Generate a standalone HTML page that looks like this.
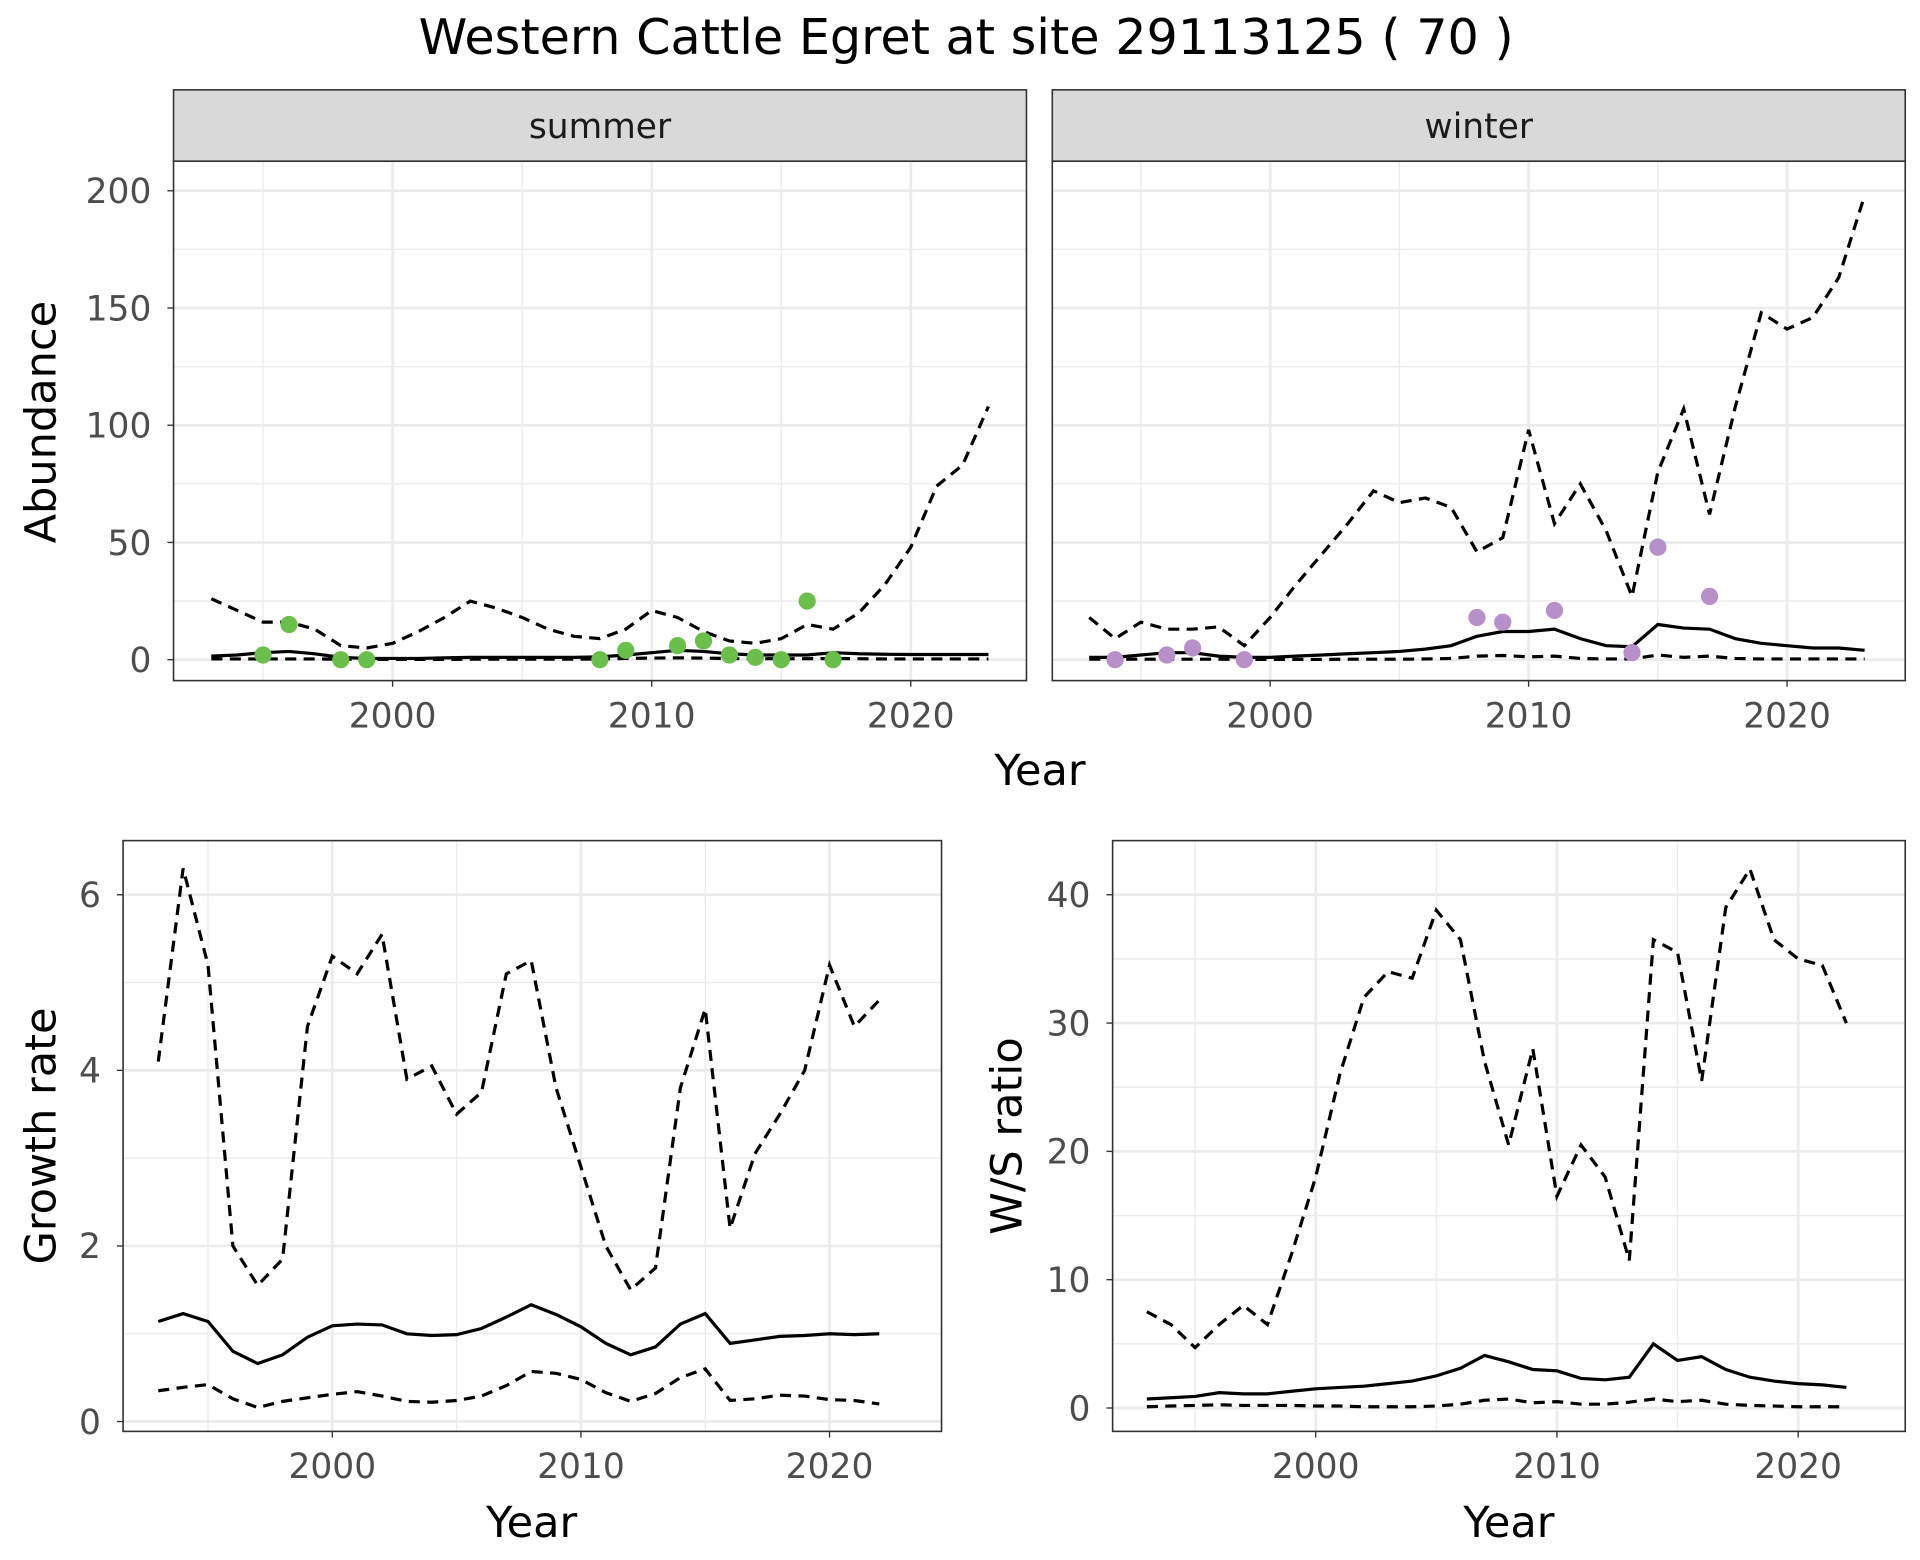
<!DOCTYPE html>
<html><head><meta charset="utf-8"><style>
html,body{margin:0;padding:0;background:#fff;}
svg{display:block;font-family:"DejaVu Sans","Liberation Sans",sans-serif;}
</style></head><body>
<svg id="chart" width="1920" height="1560" viewBox="0 0 1560 1267.5" xmlns="http://www.w3.org/2000/svg">
<text x="785" y="44" text-anchor="middle" font-size="40" fill="#000">Western Cattle Egret at site 29113125 ( 70 )</text>
<g id="root"></g>
</svg>
<script>
const years = [1993,1994,1995,1996,1997,1998,1999,2000,2001,2002,2003,2004,2005,2006,2007,2008,2009,2010,2011,2012,2013,2014,2015,2016,2017,2018,2019,2020,2021,2022,2023];
const summerMid = [1.5,2,3,3.5,2.5,1,0.5,0.5,0.5,0.8,1,1,1,1,1,1.2,2,3,4,3.5,2.5,2,2,2,3,2.5,2.3,2.2,2.2,2.2,2.2];
const summerUpper = [26,21,16,16,13,6,5,7,12,18,25,22,18,13,10,9,13,21,18,12,8,7,9,15,13,20,32,48,74,83,108];
const summerLower = [0.3,0.3,0.3,0.3,0.3,0.2,0.1,0.1,0.1,0.1,0.2,0.2,0.2,0.2,0.2,0.3,0.5,0.7,0.8,0.7,0.5,0.4,0.4,0.4,0.5,0.4,0.3,0.3,0.3,0.3,0.3];
const summerPtYears = [1995,1996,1998,1999,2008,2009,2011,2012,2013,2014,2015,2016,2017];
const summerPtVals = [2,15,0,0,0,4,6,8,2,1,0,25,0];
const winterMid = [1,1,2,3,3,1.5,1,1,1.5,2,2.5,3,3.5,4.5,6,10,12,12,13,9,6,5.5,15,13.5,13,9,7,6,5,5,4];
const winterUpper = [18,9,16,13,13,14,6,18,32,45,58,72,67,69,65,46,52,98,58,75,55,27,80,107,62,108,148,141,146,163,198];
const winterLower = [0.2,0.2,0.2,0.2,0.2,0.2,0.1,0.1,0.1,0.1,0.2,0.2,0.2,0.3,0.5,1.5,1.8,1.2,1.5,0.5,0.3,0.3,2,1,1.5,0.5,0.3,0.3,0.3,0.3,0.3];
const winterPtYears = [1994,1996,1997,1999,2008,2009,2011,2014,2015,2017];
const winterPtVals = [0,2,5,0,18,16,21,3,48,27];
const years2 = years.slice(0,30);
const growthUpper = [4.1,6.3,5.2,2.0,1.55,1.85,4.5,5.3,5.1,5.55,3.9,4.05,3.5,3.75,5.1,5.25,3.8,2.9,2.0,1.5,1.75,3.8,4.7,2.2,3.05,3.5,4.0,5.2,4.5,4.8];
const growthMid = [1.14,1.23,1.14,0.8,0.66,0.76,0.96,1.09,1.11,1.1,1.0,0.98,0.99,1.06,1.19,1.33,1.22,1.08,0.89,0.76,0.85,1.11,1.23,0.89,0.93,0.97,0.98,1.0,0.99,1.0];
const growthLower = [0.35,0.39,0.42,0.26,0.16,0.23,0.27,0.31,0.34,0.29,0.23,0.22,0.24,0.29,0.41,0.57,0.55,0.48,0.33,0.23,0.32,0.5,0.6,0.24,0.26,0.3,0.29,0.25,0.24,0.2];
const ratioUpper = [7.5,6.5,4.7,6.5,8,6.5,12,18,26,32,34,33.5,38.8,36.5,27,20.5,28,16.5,20.5,18,11.5,36.5,35.5,25.5,39,42,36.5,35,34.5,30];
const ratioMid = [0.7,0.8,0.9,1.2,1.1,1.1,1.3,1.5,1.6,1.7,1.9,2.1,2.5,3.1,4.1,3.6,3.0,2.9,2.3,2.2,2.4,5.0,3.7,4.0,3.0,2.4,2.1,1.9,1.8,1.6];
const ratioLower = [0.1,0.15,0.2,0.25,0.2,0.2,0.2,0.15,0.15,0.1,0.1,0.1,0.15,0.3,0.6,0.7,0.4,0.5,0.3,0.3,0.45,0.7,0.5,0.6,0.3,0.2,0.15,0.1,0.1,0.1];
const xTicks = [2000,2010,2020];
const xMinor = [1995,2005,2015];
const abTicks = [0,50,100,150,200];
const grTicks = [0,2,4,6];
const raTicks = [0,10,20,30,40];

const NS = "http://www.w3.org/2000/svg";
const root = document.getElementById('root');
function mk(tag, attrs, parent){const e=document.createElementNS(NS,tag);for(const k in attrs)e.setAttribute(k,attrs[k]);(parent||root).appendChild(e);return e;}
function lin(d0,d1,r0,r1){return v=>r0+(v-d0)*(r1-r0)/(d1-d0);}

function panel(name, box, sx, sy, yTicks, yMinor, showY, showX){
  const g = mk('g',{});
  
  
  mk('rect',{x:box.x0,y:box.y0,width:box.x1-box.x0,height:box.y1-box.y0,fill:'#fff'},g);
  yMinor.forEach(v=>{mk('line',{x1:box.x0,x2:box.x1,y1:sy(v),y2:sy(v),stroke:'#ebebeb','stroke-width':1.1},g);});
  xMinor.forEach(v=>{mk('line',{y1:box.y0,y2:box.y1,x1:sx(v),x2:sx(v),stroke:'#ebebeb','stroke-width':1.1},g);});
  yTicks.forEach(v=>{mk('line',{x1:box.x0,x2:box.x1,y1:sy(v),y2:sy(v),stroke:'#ebebeb','stroke-width':2.2},g);});
  xTicks.forEach(v=>{mk('line',{y1:box.y0,y2:box.y1,x1:sx(v),x2:sx(v),stroke:'#ebebeb','stroke-width':2.2},g);});
  if(showY) yTicks.forEach(v=>{
    mk('line',{x1:box.x0-5,x2:box.x0,y1:sy(v),y2:sy(v),stroke:'#333','stroke-width':1.1},g);
    const t=mk('text',{x:box.x0-18,y:sy(v)+10,'text-anchor':'end','font-size':28,fill:'#4d4d4d'},g);t.textContent=v;
    
    
  });
  if(showX) xTicks.forEach(v=>{
    mk('line',{y1:box.y1,y2:box.y1+5,x1:sx(v),x2:sx(v),stroke:'#333','stroke-width':1.1},g);
    const t=mk('text',{x:sx(v),y:box.y1+38,'text-anchor':'middle','font-size':28,fill:'#4d4d4d'},g);t.textContent=v;
    
    
  });
  return g;
}
function line(g, name, xs, ys, sx, sy, dashed){
  const d = xs.map((x,i)=>(i?'L':'M')+sx(x).toFixed(1)+','+sy(ys[i]).toFixed(1)).join(' ');
  const p = mk('path',{d:d,fill:'none',stroke:'#000','stroke-width':2.6,'stroke-dasharray':dashed?'9 6':'none'},g);
  
  
}
function points(g, name, xs, ys, sx, sy, col){
  xs.forEach((x,i)=>{
    const c = mk('circle',{cx:sx(x),cy:sy(ys[i]),r:7,fill:col},g);
    
    
  });
}
function border(g, box){mk('rect',{x:box.x0,y:box.y0,width:box.x1-box.x0,height:box.y1-box.y0,fill:'none',stroke:'#333','stroke-width':1.3},g);}
function strip(label, x0, x1){
  const g=mk('g',{});
  
  
  mk('rect',{x:x0,y:73,width:x1-x0,height:58,fill:'#d9d9d9',stroke:'#333','stroke-width':1.3},g);
  const t=mk('text',{x:(x0+x1)/2,y:112,'text-anchor':'middle','font-size':28,fill:'#1a1a1a'},g);t.textContent=label;
}
function title(text, x, y, rot, name){
  const t=mk('text',{x:x,y:y,'text-anchor':'middle','font-size':35,fill:'#000',transform:rot?`rotate(-90 ${x} ${y})`:''});
  t.textContent=text;
  
  
}

// Summer
const abY = lin(0,200,536,155);
const sBox={x0:141,x1:834,y0:131,y1:553};
const sX = lin(2000,2020,319,740);
strip('summer',141,834);
let g = panel('summer-panel', sBox, sX, abY, abTicks, [25,75,125,175], true, true);
line(g,'summer-upper-ci',years,summerUpper,sX,abY,true);
line(g,'summer-lower-ci',years,summerLower,sX,abY,true);
line(g,'summer-trend',years,summerMid,sX,abY,false);
points(g,'summer-count-point',summerPtYears,summerPtVals,sX,abY,'#6abf4b');
border(g,sBox);

// Winter
const wBox={x0:855,x1:1548,y0:131,y1:553};
const wX = lin(2000,2020,1032,1452);
strip('winter',855,1548);
g = panel('winter-panel', wBox, wX, abY, abTicks, [25,75,125,175], false, true);
line(g,'winter-upper-ci',years,winterUpper,wX,abY,true);
line(g,'winter-lower-ci',years,winterLower,wX,abY,true);
line(g,'winter-trend',years,winterMid,wX,abY,false);
points(g,'winter-count-point',winterPtYears,winterPtVals,wX,abY,'#b78fc9');
border(g,wBox);
title('Year',845,638,false,'top-x-axis-title');
title('Abundance',45,343,true,'abundance-axis-title');

// Growth
const gBox={x0:100,x1:765,y0:683,y1:1163};
const gX = lin(2000,2020,270,674);
const gY = lin(0,6,1155,727);
g = panel('growth-panel', gBox, gX, gY, grTicks, [1,3,5], true, true);
line(g,'growth-upper-ci',years2,growthUpper,gX,gY,true);
line(g,'growth-lower-ci',years2,growthLower,gX,gY,true);
line(g,'growth-trend',years2,growthMid,gX,gY,false);
border(g,gBox);
title('Year',432,1249,false,'growth-x-axis-title');
title('Growth rate',45,923,true,'growth-y-axis-title');

// Ratio
const rBox={x0:904,x1:1548,y0:683,y1:1163};
const rX = lin(2000,2020,1069,1461);
const rY = lin(0,40,1144,727);
g = panel('ratio-panel', rBox, rX, rY, raTicks, [5,15,25,35], true, true);
line(g,'ratio-upper-ci',years2,ratioUpper,rX,rY,true);
line(g,'ratio-lower-ci',years2,ratioLower,rX,rY,true);
line(g,'ratio-trend',years2,ratioMid,rX,rY,false);
border(g,rBox);
title('Year',1226,1249,false,'ratio-x-axis-title');
title('W/S ratio',830,923,true,'ratio-y-axis-title');
</script>
</body></html>
